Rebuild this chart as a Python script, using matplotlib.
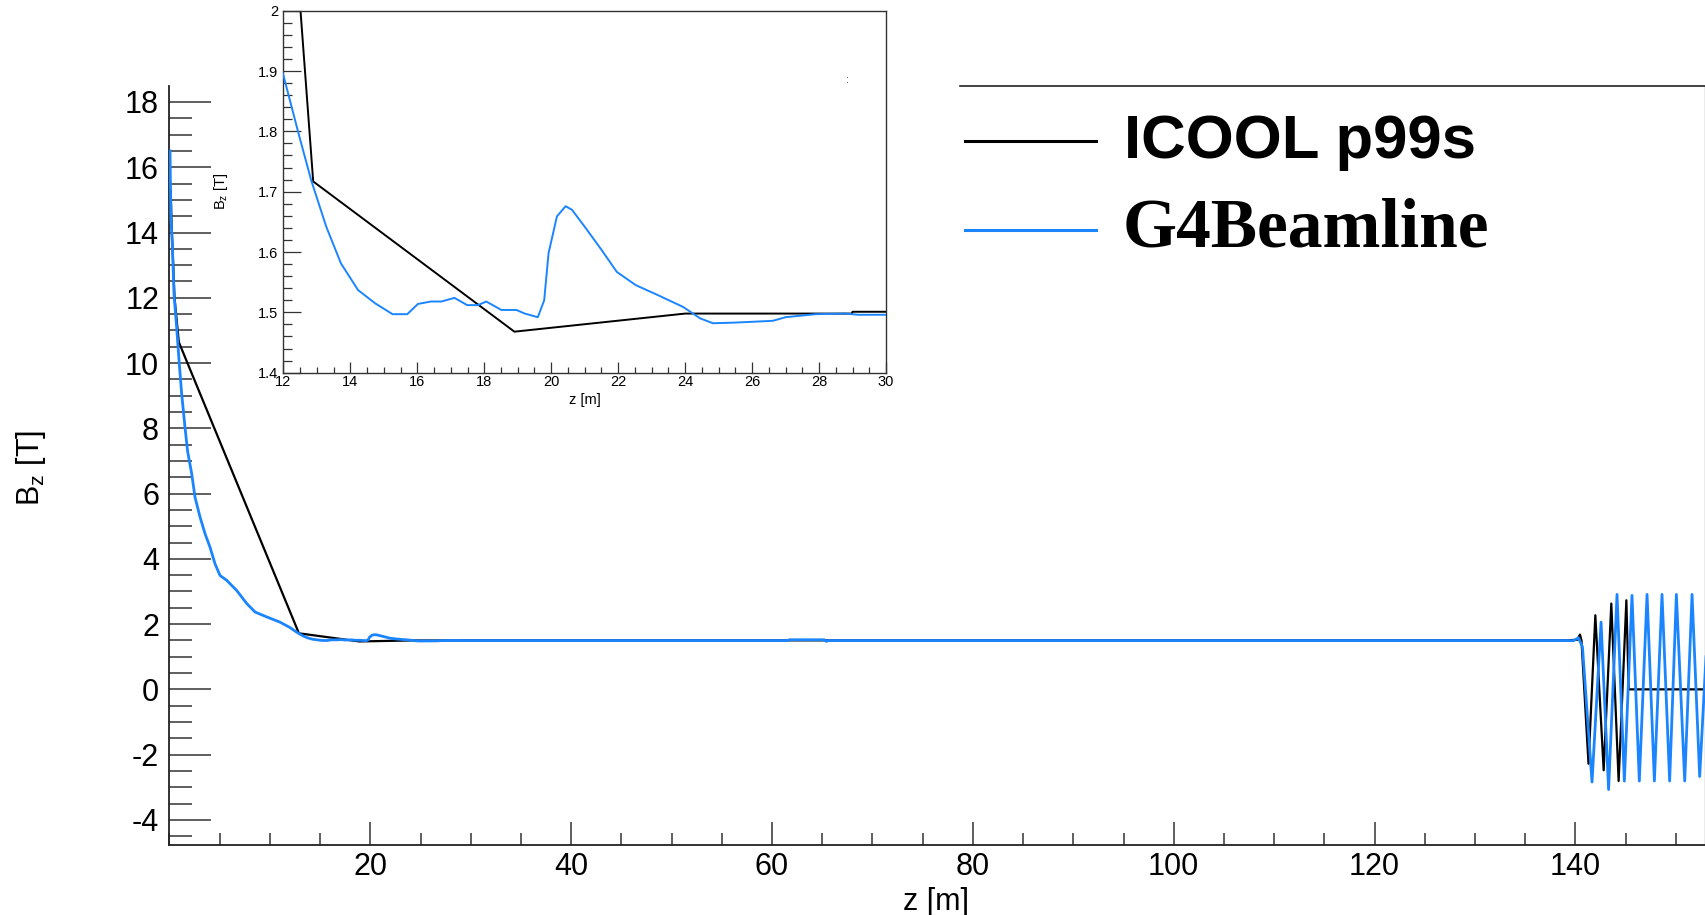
import matplotlib
matplotlib.use('Agg')
import matplotlib.pyplot as plt
from matplotlib.lines import Line2D
from matplotlib.ticker import MultipleLocator, FixedLocator

plt.rcParams['font.family'] = ['Liberation Sans', 'DejaVu Sans']
plt.rcParams['mathtext.fontset'] = 'custom'
plt.rcParams['mathtext.rm'] = 'Liberation Sans'
plt.rcParams['mathtext.it'] = 'Liberation Sans'
plt.rcParams['axes.unicode_minus'] = False

# ---------------- data ----------------
# ICOOL p99s (black)
icool_z = [0.12, 0.2, 0.5, 0.93, 12.89, 18.9, 24.0, 28.98, 29.0, 139.0,
           140.2, 140.45, 140.6, 141.3, 141.98, 142.81, 143.57, 144.3,
           145.07, 145.3, 153.0]
icool_b = [15.3, 14.3, 12.0, 10.64, 1.717, 1.468, 1.498, 1.498, 1.501, 1.501,
           1.52, 1.68, 1.5, -2.28, 2.27, -2.48, 2.63, -2.81,
           2.73, 0.0, 0.0]

# G4Beamline (blue)
g4_z = [0.05, 0.1, 0.15, 0.28, 0.45, 0.71, 0.95, 1.21, 1.54, 1.8, 2.21, 2.54,
        3.04, 3.54, 4.03, 4.53, 5.03, 5.7, 6.69, 7.69, 8.52, 9.68, 11.0, 12.0,
        12.45, 12.83, 13.28, 13.72, 14.23, 14.74, 15.26, 15.70, 16.02, 16.41,
        16.72, 17.11, 17.49, 17.81, 18.06, 18.51, 18.96, 19.21, 19.6, 19.79,
        19.92, 20.17, 20.43, 20.62, 21.0, 21.51, 21.96, 22.53, 23.17, 23.94,
        24.45, 24.83, 25.47, 26.62, 27.0, 27.9, 28.79, 29.17, 30.0,
        61.6, 61.7, 65.2, 65.4, 65.6, 139.2, 139.8, 140.3, 140.7,
        141.65, 142.55, 143.3, 144.14, 144.87, 145.63, 146.36, 147.13, 147.86,
        148.62, 149.38, 150.05, 150.88, 151.61, 152.37, 153.0]
g4_b = [16.5, 15.3, 14.4, 13.65, 12.1, 11.1, 10.08, 9.06, 8.04, 7.3, 6.61, 5.89,
        5.28, 4.77, 4.36, 3.85, 3.49, 3.34, 3.03, 2.63, 2.37, 2.22, 2.06, 1.893,
        1.797, 1.719, 1.642, 1.581, 1.537, 1.515, 1.497, 1.497, 1.514, 1.518,
        1.518, 1.524, 1.512, 1.512, 1.518, 1.504, 1.504, 1.498, 1.492, 1.520,
        1.598, 1.659, 1.676, 1.670, 1.642, 1.603, 1.567, 1.545, 1.529, 1.509,
        1.490, 1.482, 1.483, 1.486, 1.492, 1.497, 1.498, 1.496, 1.496,
        1.496, 1.52, 1.52, 1.47, 1.496, 1.496, 1.49, 1.58, 1.3,
        -2.84, 2.06, -3.07, 2.91, -2.81, 2.88, -2.81, 2.91, -2.81,
        2.91, -2.81, 2.91, -2.81, 2.91, -2.67, 1.0]

legend_labels = ['ICOOL p99s', 'G4Beamline']
main_xlabel = 'z [m]'
main_ylabel = r'B$_\mathregular{z}$ [T]'

BLACK = '#000000'
BLUE = '#1a85ff'

W, H = 1706, 915
fig = plt.figure(figsize=(W / 100, H / 100), dpi=100)

def fx(px):
    return px / W

def fy(py):
    return 1 - py / H

# ---------------- main axes ----------------
L, R, T, B = 169.5, 1705.5, 86, 845
ax = fig.add_axes([fx(L), fy(B), fx(R) - fx(L), fy(T) - fy(B)])
ax.plot(icool_z, icool_b, color=BLACK, lw=1.6, zorder=2)
ax.plot(g4_z, g4_b, color=BLUE, lw=2.0, zorder=3)
ax.set_xlim(0, 152.95)
ax.set_ylim(-4.77, 18.49)

ax.spines['top'].set_visible(False)
ax.spines['right'].set_color('#999999')
ax.spines['right'].set_linewidth(1.0)
for s in ('left', 'bottom'):
    ax.spines[s].set_color('#222222')
    ax.spines[s].set_linewidth(1.3)

ax.xaxis.set_major_locator(FixedLocator([20, 40, 60, 80, 100, 120, 140]))
ax.xaxis.set_minor_locator(MultipleLocator(5))
ax.yaxis.set_major_locator(MultipleLocator(2))
ax.yaxis.set_minor_locator(MultipleLocator(0.5))
ax.tick_params(axis='y', which='major', direction='in', length=30, width=1.1,
               color='#333333', labelsize=22, pad=7.5, right=False)
ax.tick_params(axis='y', which='minor', direction='in', length=16.5, width=1.1,
               color='#333333', right=False)
ax.tick_params(axis='x', which='major', direction='in', length=16.5, width=1.1,
               color='#333333', labelsize=22, pad=5, top=False)
ax.tick_params(axis='x', which='minor', direction='in', length=8.6, width=1.1,
               color='#333333', top=False)

ax.set_xlabel(main_xlabel, fontsize=22)
ax.xaxis.set_label_coords(0.499, -0.055)
ax.set_ylabel(main_ylabel, fontsize=22)
ax.yaxis.set_label_coords(-0.079, 0.497)

# legend (ROOT style, drawn manually)
fig.add_artist(Line2D([fx(960), fx(1706)], [fy(85.5), fy(85.5)],
                      color='#222222', lw=1.2))
fig.add_artist(Line2D([fx(965), fx(1096)], [fy(141), fy(141)],
                      color=BLACK, lw=2.2))
fig.add_artist(Line2D([fx(965), fx(1096)], [fy(230), fy(230)],
                      color=BLUE, lw=2.2))
fig.text(fx(1124), fy(158.3), legend_labels[0], fontsize=44.5, fontweight='bold',
         family=['Liberation Sans', 'DejaVu Sans'], va='baseline', ha='left')
fig.text(fx(1123), fy(246.7), legend_labels[1], fontsize=50, fontweight='bold',
         family=['Liberation Serif', 'DejaVu Serif'], va='baseline', ha='left')

# ---------------- inset ----------------
iL, iR, iT, iB = 283.4, 886.0, 10.7, 372.7
ax2 = fig.add_axes([fx(iL), fy(iB), fx(iR) - fx(iL), fy(iT) - fy(iB)], zorder=5)
ax2.set_facecolor('white')
ax2.plot(icool_z, icool_b, color=BLACK, lw=1.4, zorder=2)
ax2.plot(g4_z, g4_b, color=BLUE, lw=1.4, zorder=3)
ax2.set_xlim(12, 30)
ax2.set_ylim(1.4, 2.0)
for s in ax2.spines.values():
    s.set_color('#333333')
    s.set_linewidth(1.0)
ax2.xaxis.set_major_locator(MultipleLocator(2))
ax2.xaxis.set_minor_locator(MultipleLocator(0.5))
ax2.yaxis.set_major_locator(MultipleLocator(0.1))
ax2.yaxis.set_minor_locator(MultipleLocator(0.02))
ax2.tick_params(axis='x', which='major', direction='in', length=8, width=0.9,
                color='#333333', labelsize=10.5, pad=2, top=False)
ax2.tick_params(axis='x', which='minor', direction='in', length=4.3, width=0.9,
                color='#333333', top=False)
ax2.tick_params(axis='y', which='major', direction='in', length=13, width=0.9,
                color='#333333', labelsize=10.5, pad=3.5, right=False)
ax2.tick_params(axis='y', which='minor', direction='in', length=6.2, width=0.9,
                color='#333333', right=False)
ax2.yaxis.set_major_formatter(plt.FuncFormatter(
    lambda v, p: '2' if abs(v - 2.0) < 1e-6 else '%.1f' % v))
ax2.set_xlabel(main_xlabel, fontsize=10.5)
ax2.xaxis.set_label_coords(0.5, -0.055)
ax2.set_ylabel(main_ylabel, fontsize=10.5)
ax2.yaxis.set_label_coords(-0.088, 0.5)
ax2.text(0.936, 0.809, ':', transform=ax2.transAxes, fontsize=8,
         ha='center', va='center', color='#333333')

fig.savefig('out.png', dpi=100)
